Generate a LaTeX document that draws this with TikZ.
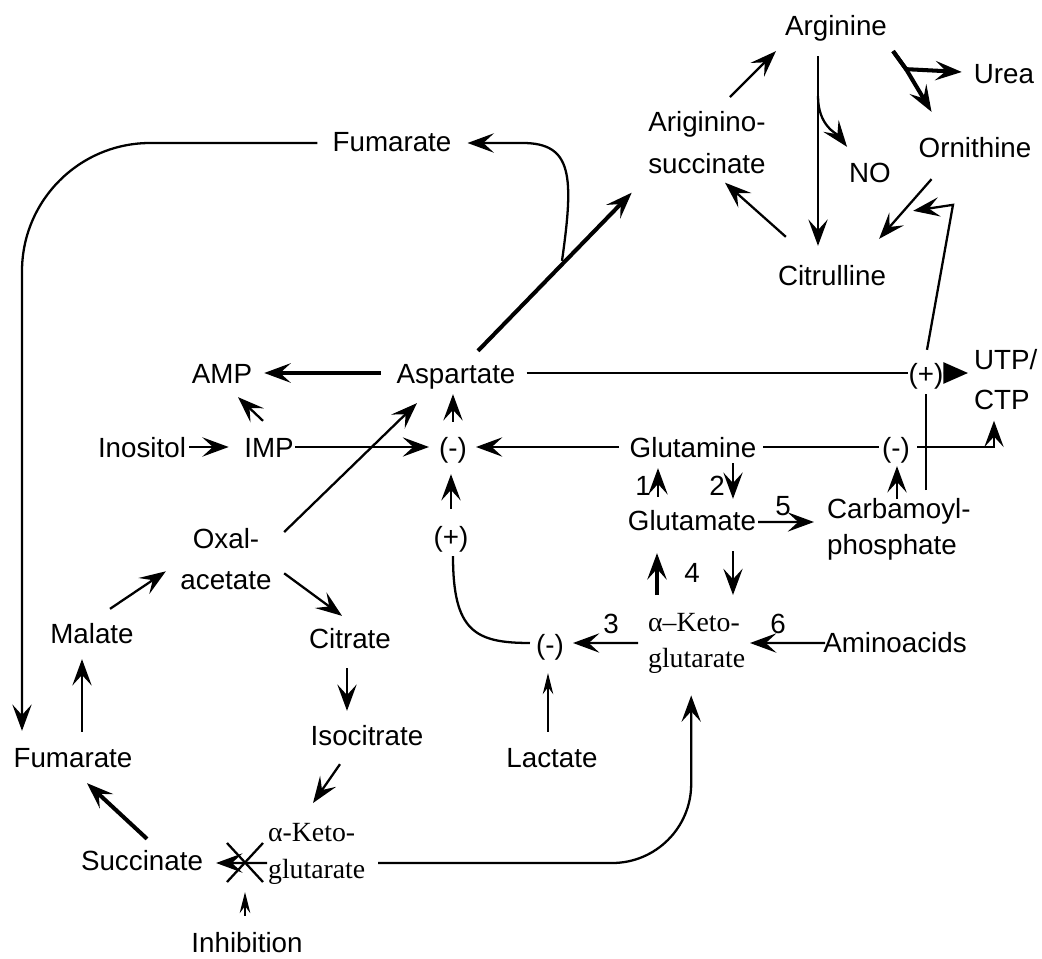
\documentclass[tikz,border=0pt]{standalone}
\usepackage{fontspec}
\setmainfont{Liberation Sans}
\newfontfamily\kgfont{Liberation Serif}
\usetikzlibrary{arrows.meta}
\newcommand\metfont{\fontsize{15.8}{22}\selectfont}

\begin{document}
\begin{tikzpicture}[x=0.02cm,y=-0.02cm,line width=1.3pt,
    >={Stealth[length=15pt,width=11pt,inset=6pt]},
    met/.style={font=\metfont,inner sep=0pt,text height=11.4pt,text depth=0pt,anchor=base},
    two/.style={font=\metfont,inner sep=0pt,align=center,anchor=north},
    kg/.style={font=\kgfont\fontsize{15.8}{20.5}\selectfont,inner sep=0pt,align=left,anchor=north west},
    heavy/.style={line width=2.3pt},
    fine/.style={line width=0.7pt,>={Stealth[length=12pt,width=6pt,inset=4pt]}}]
    \useasboundingbox (0,0) rectangle (1042,958);
    % urea cycle
    \node[met] (Arg) at (836,35) {Arginine};
    \node[met] (Urea) at (1004,83) {Urea};
    \node[met] (NO) at (870,182) {NO};
    \node[met] (Orn) at (975,157) {Ornithine};
    \node[met] (Cit) at (832,285) {Citrulline};
    \node[two,font=\fontsize{15.8}{23.9}\selectfont] (Asuc) at (707,110) {Ariginino-\\succinate};
    % middle
    \node[met] (FumT) at (392,151) {Fumarate};
    \node[met] (AMP) at (222,383) {AMP};
    \node[met] (Asp) at (456,383) {Aspartate};
    \node[met] (Pp) at (926,383) {(+)};
    \node[two,anchor=north west,align=left,font=\fontsize{15.8}{22.8}\selectfont] (UTP) at (973,348) {UTP/\\CTP};
    \node[met] (Ino) at (142,457) {Inositol};
    \node[met] (IMP) at (269,457) {IMP};
    \node[met] (Mi) at (453,457) {(-)};
    \node[met] (Gln) at (693,457) {Glutamine};
    \node[met] (Mr) at (896,457) {(-)};
    \node[met] (Glu) at (692,530) {Glutamate};
    \node[two,anchor=north west,align=left,font=\fontsize{15.8}{20.5}\selectfont] (Carb) at (826,497) {Carbamoyl-\\phosphate};
    \node[met] (Pl) at (451,546) {(+)};
    \node[two,font=\fontsize{15.8}{23.3}\selectfont] (Oxa) at (226,527.5) {Oxal-\\acetate};
    \node[met] (Mal) at (92,643) {Malate};
    \node[met] (Citr) at (350,648) {Citrate};
    \node[met] (Mb) at (550,654) {(-)};
    \node[kg] (KGr) at (647,612) {α–Keto-\\glutarate};
    \node[met] (Amino) at (895,652) {Aminoacids};
    % bottom
    \node[met] (FumB) at (73,767) {Fumarate};
    \node[met] (Iso) at (367,745) {Isocitrate};
    \node[met] (Lac) at (552,767) {Lactate};
    \node[kg,font=\kgfont\fontsize{15.8}{21}\selectfont] (KGb) at (267,822) {α-Keto-\\glutarate};
    \node[met] (Suc) at (142,870) {Succinate};
    \node[met] (Inh) at (247,952) {Inhibition};
    \coordinate (X) at (245,862);
    % steps
    \node[met] (n1) at (643,495) {1};
    \node[met] (n2) at (717,495) {2};
    \node[met] (n3) at (611,633) {3};
    \node[met] (n4) at (692,582) {4};
    \node[met] (n5) at (783,515) {5};
    \node[met] (n6) at (778,633) {6};

    \draw[->] ([shift={(23,-13)}]Asuc.north) -- ([shift={(-8,15)}]Arg.south west);
    \draw[->] ([shift={(-18,20)}]Arg.south) -- ([shift={(-14,-18)}]Cit.north);
    \draw[->] ([shift={(-18,60)}]Arg.south) .. controls +(0,30) and +(-10,-13) .. ([shift={(-1,-14)}]NO.north west);
    \draw[heavy,->] ([shift={(5,15)}]Arg.south east) -- ++(13,18) -- ([shift={(-11,-1)}]Urea.west);
    \draw[heavy,->] ([shift={(5,15)}]Arg.south east) -- ++(13,18) -- ([shift={(14,-24)}]Orn.north west);
    \draw[->] ([shift={(14,21)}]Orn.south west) -- ([shift={(-8,-25)}]Cit.north east);
    \draw[->] ([shift={(9,-27)}]Cit.north west) -- ([shift={(18,8)}]Asuc.south);
    \draw ([shift={(100,-7)}]Carb.north west) -- ([shift={(0,10)}]Pp.south);
    \draw[->] ([shift={(1,-12)}]Pp.north) -- ++(26,-145) -- ([shift={(26,-53)}]Cit.north east);

    \draw[heavy,->] ([shift={(22,-11)}]Asp.north) -- ([shift={(-15.5,18)}]Asuc.south west);
    \draw[->] ([shift={(106,-101)}]Asp.north) .. controls +(12,-85) and +(50,0) .. ([shift={(70,2)}]FumT.east) -- ([shift={(15,2)}]FumT.east);
    \draw[rounded corners=73pt,->] ([shift={(-14,2)}]FumT.west) -| ([shift={(-51,-15)}]FumB.north);
    \draw[heavy,->] ([shift={(-14.5,0)}]Asp.west) -- ([shift={(11,0)}]AMP.east);
    \draw ([shift={(10,0)}]Asp.east) -- (Pp.west);
    \draw[-{Triangle[length=14pt,width=12pt]}] (Pp.east) -- ([shift={(-5,25)}]UTP.north west);
    \draw ([shift={(6,0)}]Gln.east) -- ([shift={(-2,0)}]Mr.west);
    \draw[->] ([shift={(6,0)}]Mr.east) -| ([shift={(21,10)}]UTP.south west);
    \draw[->] ([shift={(71,2)}]Carb.north west) -- ([shift={(1,8)}]Mr.south);

    \draw[->] ([shift={(-6,-15)}]IMP.north) -- ([shift={(16,13)}]AMP.south);
    \draw[->] ([shift={(2,0)}]Ino.east) -- ([shift={(-14.5,0)}]IMP.west);
    \draw[->] (IMP.east) -- ([shift={(-9,0)}]Mi.west);
    \draw[->] ([shift={(-9.5,0)}]Gln.west) -- ([shift={(8,0)}]Mi.east);
    \draw[->] ([shift={(0,-14)}]Mi.north) -- ([shift={(-3,10)}]Asp.south);
    \draw[->] ([shift={(0,-16)}]Pl.north) -- ([shift={(-2,16)}]Mi.south);
    \draw[->] ([shift={(11.5,4.5)}]Oxa.north east) -- ([shift={(21.5,19)}]Asp.south west);

    % TCA cycle
    \draw[->] ([shift={(18,-13)}]Mal.north) -- ([shift={(-13.5,12)}]Oxa.west);
    \draw[->] ([shift={(11.5,14)}]Oxa.east) -- ([shift={(-8,-11)}]Citr.north);
    \draw[->] ([shift={(-3,19)}]Citr.south) -- ([shift={(-20,-13)}]Iso.north);
    \draw[->] ([shift={(-27,18)}]Iso.south) -- ([shift={(46,-19)}]KGb.north west);
    \draw[->] ([shift={(0,41)}]KGb.north west) -- ([shift={(12,3)}]Suc.east);
    \draw (X) +(-18,-19) -- +(18,20) (X) +(-18,20) -- +(18,-19);
    \draw[fine,->] ([shift={(-2,-15)}]Inh.north) -- ([shift={(0,30)}]X);
    \draw[heavy,->] ([shift={(5,-10)}]Suc.north) -- ([shift={(14,15)}]FumB.south);
    \draw[->] ([shift={(9,-14)}]FumB.north) -- ([shift={(-10,15)}]Mal.south);
    \draw[rounded corners=45pt,->] ([shift={(111,41)}]KGb.north west) -| ([shift={(-5.5,21)}]KGr.south);

    % glutamate
    \draw[->] ([shift={(-34,-12)}]Glu.north) -- ([shift={(-35,10)}]Gln.south);
    \draw[->] ([shift={(40,5)}]Gln.south) -- ([shift={(41,-10)}]Glu.north);
    \draw[heavy,->] ([shift={(10,-17)}]KGr.north west) -- ([shift={(-35,22)}]Glu.south);
    \draw[->] ([shift={(41,20)}]Glu.south) -- ([shift={(86,-17)}]KGr.north west);
    \draw[->] ([shift={(1,2)}]Glu.east) -- ([shift={(-12,25)}]Carb.north west);
    \draw[->] ([shift={(-9,31)}]KGr.north west) -- ([shift={(8,-1)}]Mb.east);
    \draw[->] ([shift={(3,1)}]Amino.west) -- ([shift={(103,31)}]KGr.north west);
    \draw[fine,->] ([shift={(-4,-14)}]Lac.north) -- ([shift={(-2,18)}]Mb.south);
    \draw ([shift={(-5,-1)}]Mb.west) .. controls +(-55,0) and +(0,75) .. ([shift={(2,9)}]Pl.south);
\end{tikzpicture}
\end{document}
